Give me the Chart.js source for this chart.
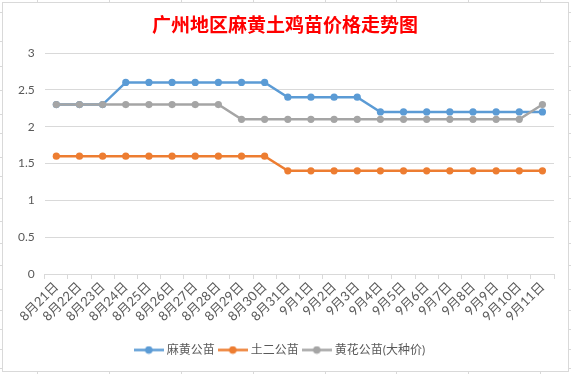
<!DOCTYPE html>
<html>
<head>
<meta charset="utf-8">
<script src="https://cdn.jsdelivr.net/npm/chart.js@4.4.1/dist/chart.umd.min.js"></script>
<style>
  html, body { margin: 0; padding: 0; background: #fff; }
  #page { position: relative; width: 571px; height: 374px; overflow: hidden; }
  .stub { position: absolute; background: #d9d9d9; }
  #frame { position: absolute; left: 2px; top: 2px; width: 565px; height: 368px; border: 1px solid #d9d9d9; background: #fff; }
  #wrap { position: absolute; left: 1px; top: 1px; width: 564px; height: 367px; }
</style>
</head>
<body>
<div id="page">
  <div id="frame"><div id="wrap"><canvas id="priceChart"></canvas></div></div>
</div>
<script>
// données
var labels = ['8月21日','8月22日','8月23日','8月24日','8月25日','8月26日','8月27日','8月28日','8月29日','8月30日','8月31日',
              '9月1日','9月2日','9月3日','9月4日','9月5日','9月6日','9月7日','9月8日','9月9日','9月10日','9月11日'];
var mahuang = [2.3,2.3,2.3,2.6,2.6,2.6,2.6,2.6,2.6,2.6,2.4,2.4,2.4,2.4,2.2,2.2,2.2,2.2,2.2,2.2,2.2,2.2];
var tuer    = [1.6,1.6,1.6,1.6,1.6,1.6,1.6,1.6,1.6,1.6,1.4,1.4,1.4,1.4,1.4,1.4,1.4,1.4,1.4,1.4,1.4,1.4];
var huanghua = [2.3,2.3,2.3,2.3,2.3,2.3,2.3,2.3,2.1,2.1,2.1,2.1,2.1,2.1,2.1,2.1,2.1,2.1,2.1,2.1,2.1,2.3];
var seriesNames = ['麻黄公苗','土二公苗','黄花公苗(大种价)'];
var yTicks = [0, 0.5, 1, 1.5, 2, 2.5, 3];
var titleText = '广州地区麻黄土鸡苗价格走势图';

// petits traits de la grille du tableur autour du graphique
var page = document.getElementById('page');
function stub(x, y, w, h) {
    var d = document.createElement('div');
    d.className = 'stub';
    d.style.left = x + 'px'; d.style.top = y + 'px';
    d.style.width = w + 'px'; d.style.height = h + 'px';
    page.insertBefore(d, page.firstChild);
}
[12,41,66,90,114,133,157,176,198,221,243,265,289,310,329,349,368].forEach(function(y) {
    stub(0, y, 2, 1); stub(569, y, 2, 1);
});
[37,109,181,253,325,396,468,540].forEach(function(x) {
    stub(x, 0, 1, 2); stub(x, 372, 1, 2);
});

var colors = ['#5B9BD5', '#ED7D31', '#A5A5A5'];
var fontFam = "Lato, 'Noto Sans CJK SC', sans-serif";

function legendIcon(color) {
    var c = document.createElement('canvas');
    c.width = 30; c.height = 9;
    var g = c.getContext('2d');
    g.strokeStyle = color; g.lineWidth = 2.5;
    g.beginPath(); g.moveTo(0, 4.5); g.lineTo(30, 4.5); g.stroke();
    g.fillStyle = color;
    g.beginPath(); g.arc(15, 4.5, 3.8, 0, Math.PI * 2); g.fill();
    return c;
}
var icons = colors.map(legendIcon);

var titlePlugin = {
    id: 'titreExcel',
    afterDraw: function(chart) {
        var ctx = chart.ctx;
        ctx.save();
        ctx.font = "bold 19px 'Noto Sans CJK SC', sans-serif";
        ctx.fillStyle = '#FF0000';
        ctx.textAlign = 'center';
        ctx.textBaseline = 'middle';
        ctx.fillText(titleText, 281, 21);
        ctx.restore();
    }
};

var ctx = document.getElementById('priceChart').getContext('2d');
var datasets = [mahuang, tuer, huanghua].map(function(d, i) {
    return {
        label: seriesNames[i],
        data: d,
        borderColor: colors[i],
        backgroundColor: colors[i],
        borderWidth: 2.5,
        pointRadius: 3.6,
        pointHoverRadius: 3.6,
        pointBorderWidth: 0,
        pointBackgroundColor: colors[i],
        tension: 0,
        order: 2 - i
    };
});

new Chart(ctx, {
    type: 'line',
    data: { labels: labels, datasets: datasets },
    plugins: [titlePlugin],
    options: {
        responsive: true,
        maintainAspectRatio: false,
        animation: false,
        layout: { padding: { top: 49, right: 14, left: 4, bottom: 5 } },
        plugins: {
            title: { display: false },
            tooltip: { enabled: false },
            legend: {
                position: 'bottom',
                labels: {
                    usePointStyle: true,
                    pointStyleWidth: 24,
                    padding: 6,
                    color: '#595959',
                    font: { size: 12, family: fontFam },
                    generateLabels: function(chart) {
                        return chart.data.datasets.map(function(ds, i) {
                            return {
                                text: ds.label,
                                pointStyle: icons[i],
                                fillStyle: colors[i],
                                strokeStyle: colors[i],
                                lineWidth: 0,
                                fontColor: '#595959',
                                hidden: false,
                                datasetIndex: i
                            };
                        });
                    }
                }
            }
        },
        scales: {
            x: {
                offset: true,
                afterFit: function(scale) {
                    scale.height = 64;
                    scale.paddingLeft = 0;
                    scale.paddingRight = 0;
                },
                grid: {
                    offset: true,
                    drawOnChartArea: false,
                    drawTicks: true,
                    tickLength: 5,
                    color: '#d9d9d9'
                },
                border: { color: '#d9d9d9' },
                ticks: {
                    autoSkip: false,
                    minRotation: 45,
                    maxRotation: 45,
                    padding: 0,
                    color: '#595959',
                    font: { size: 13, family: fontFam }
                }
            },
            y: {
                min: 0,
                max: 3,
                afterBuildTicks: function(scale) {
                    scale.ticks = yTicks.map(function(v) { return { value: v }; });
                },
                grid: { color: '#d9d9d9', drawTicks: false },
                border: { display: false },
                ticks: {
                    padding: 10,
                    color: '#595959',
                    font: { size: 12, family: fontFam },
                    callback: function(v) { return String(v); }
                }
            }
        }
    }
});
</script>
</body>
</html>
